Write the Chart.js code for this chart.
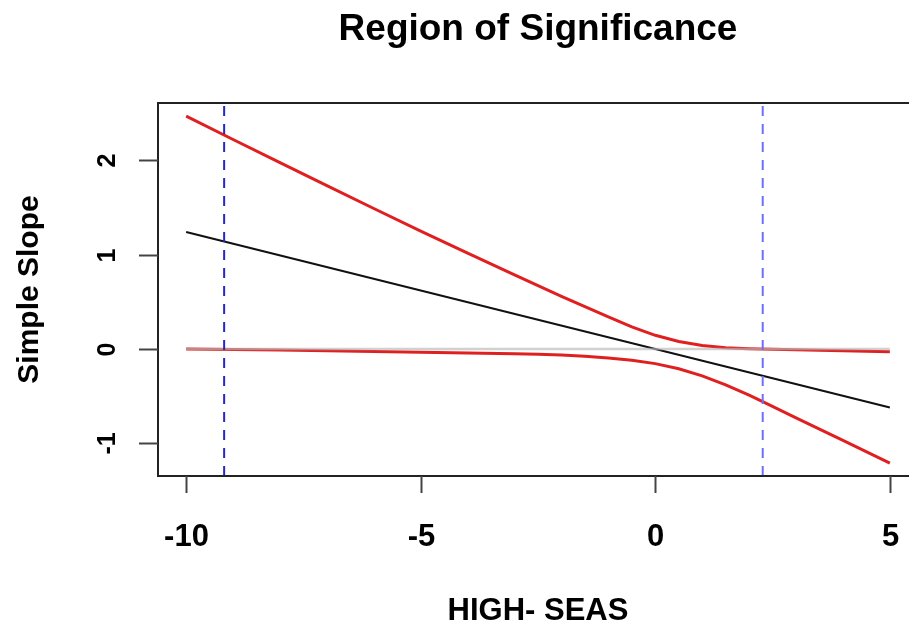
<!DOCTYPE html>
<html>
<head>
<meta charset="utf-8">
<title>Region of Significance</title>
<script src="https://cdn.jsdelivr.net/npm/chart.js@4.4.1/dist/chart.umd.min.js"></script>
<style>
  html, body { margin: 0; padding: 0; background: #fff; overflow: hidden; }
  #wrap { width: 930px; height: 631px; }
</style>
</head>
<body>
<div id="wrap"><canvas id="ros" width="930" height="631"></canvas></div>
<script>
// axis ticks
const xTicks = [-10, -5, 0, 5];
const yTicks = [-1, 0, 1, 2];

// simple slope (black line)
const slopeX = [-10, 5];
const slopeY = [1.24, -0.62];

// upper confidence band (red)
const upperX = [-10, -9, -8, -7, -6, -5, -4, -3, -2, -1.5, -1, -0.5, 0, 0.5, 1, 1.5, 2, 2.5, 3, 4, 5];
const upperY = [2.47, 2.222, 1.976, 1.732, 1.49, 1.251, 1.016, 0.785, 0.559, 0.449, 0.34, 0.235, 0.145, 0.08, 0.037, 0.014, 0.003, -0.003, -0.008, -0.018, -0.03];

// lower confidence band (red)
const lowerX = [-10, -9, -8, -7, -6, -5, -4, -3, -2.5, -2, -1.5, -1, -0.5, 0, 0.5, 1, 1.5, 2, 2.3, 3, 4, 5];
const lowerY = [0, -0.005, -0.01, -0.018, -0.027, -0.035, -0.043, -0.051, -0.057, -0.065, -0.077, -0.095, -0.12, -0.155, -0.21, -0.285, -0.38, -0.49, -0.56, -0.73, -0.97, -1.21];

// zero reference line
const zeroX = [-10, 5];
const zeroY = [0, 0];

// region of significance bounds (blue dashed)
const regionBounds = [-9.19, 2.29];
const boundColors = ["#2626c4", "#6e6eff"];

const xMin = -10.6, xMax = 5.6;
const yMin = -1.347, yMax = 2.609;

const FONT = '"Liberation Sans", Arial, Helvetica, sans-serif';

function pts(xs, ys) {
  return xs.map((v, i) => ({ x: v, y: ys[i] }));
}

const rAxes = {
  id: "rAxes",
  afterDraw(chart) {
    const { ctx, chartArea: a, scales: { x, y } } = chart;
    ctx.save();

    // box
    ctx.strokeStyle = "#222";
    ctx.lineWidth = 2;
    ctx.strokeRect(a.left, a.top, a.right - a.left, a.bottom - a.top);

    // x ticks + labels
    ctx.strokeStyle = "#444";
    ctx.fillStyle = "#000";
    ctx.font = "bold 31px " + FONT;
    ctx.textAlign = "center";
    ctx.textBaseline = "alphabetic";
    xTicks.forEach(v => {
      const px = Math.round(x.getPixelForValue(v)) + 0.5;
      ctx.beginPath();
      ctx.moveTo(px, a.bottom);
      ctx.lineTo(px, a.bottom + 17);
      ctx.stroke();
      ctx.fillText(String(v), px, a.bottom + 70);
    });

    // y ticks + rotated labels
    ctx.font = "bold 25px " + FONT;
    yTicks.forEach(v => {
      const py = Math.round(y.getPixelForValue(v)) + 0.5;
      ctx.beginPath();
      ctx.moveTo(a.left - 19, py);
      ctx.lineTo(a.left, py);
      ctx.stroke();
      ctx.save();
      ctx.translate(a.left - 43, py);
      ctx.rotate(-Math.PI / 2);
      ctx.fillText(String(v), 0, 0);
      ctx.restore();
    });

    const cx = (a.left + a.right) / 2;
    const cy = (a.top + a.bottom) / 2;

    // main title
    ctx.font = "bold 37px " + FONT;
    ctx.fillText("Region of Significance", cx, a.top - 63);

    // x title
    ctx.font = "bold 31px " + FONT;
    ctx.fillText("HIGH- SEAS", cx, a.bottom + 144);

    // y title
    ctx.font = "bold 30px " + FONT;
    ctx.save();
    ctx.translate(a.left - 120, cy);
    ctx.rotate(-Math.PI / 2);
    ctx.fillText("Simple Slope", 0, 0);
    ctx.restore();

    ctx.restore();
  }
};

const datasets = [];

regionBounds.forEach((b, i) => {
  datasets.push({
    label: "bound " + (i + 1),
    data: [{ x: b, y: yMin }, { x: b, y: yMax }],
    borderColor: boundColors[i],
    borderWidth: 2,
    borderDash: [10, 8],
    order: 0
  });
});

datasets.push({
  label: "zero",
  data: pts(zeroX, zeroY),
  borderColor: "rgba(185,185,185,0.65)",
  borderWidth: 2.5,
  order: 1
});

datasets.push({
  label: "slope",
  data: pts(slopeX, slopeY),
  borderColor: "#111",
  borderWidth: 2,
  order: 2
});

datasets.push({
  label: "upper",
  data: pts(upperX, upperY),
  borderColor: "#e02020",
  borderWidth: 3,
  order: 3
});

datasets.push({
  label: "lower",
  data: pts(lowerX, lowerY),
  borderColor: "#e02020",
  borderWidth: 3,
  order: 3
});

datasets.forEach(d => {
  d.showLine = true;
  d.pointRadius = 0;
  d.fill = false;
  d.tension = 0;
});

new Chart(document.getElementById("ros"), {
  type: "scatter",
  data: { datasets },
  options: {
    responsive: false,
    animation: false,
    devicePixelRatio: 1,
    layout: { padding: { left: 158, top: 103, right: 12, bottom: 155 } },
    scales: {
      x: { type: "linear", min: xMin, max: xMax, display: false },
      y: { type: "linear", min: yMin, max: yMax, display: false }
    },
    plugins: {
      legend: { display: false },
      tooltip: { enabled: false }
    }
  },
  plugins: [rAxes]
});
</script>
</body>
</html>
